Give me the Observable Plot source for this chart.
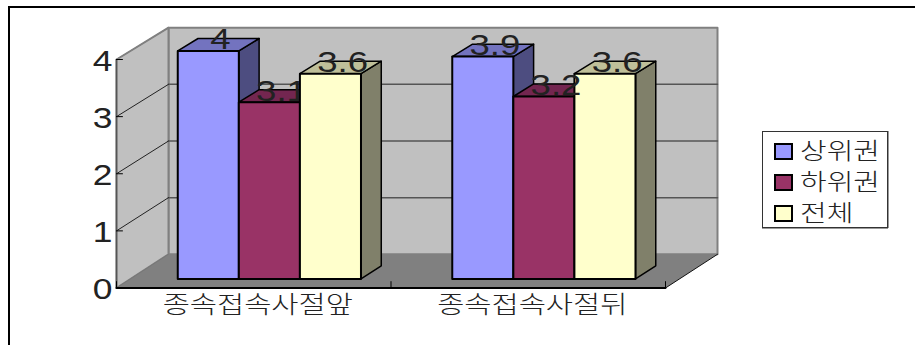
<!DOCTYPE html>
<html>
<head>
<meta charset="utf-8">
<script src="https://cdn.jsdelivr.net/npm/d3@7"></script>
<script src="https://cdn.jsdelivr.net/npm/@observablehq/plot@0.6"></script>
<style>
  html, body { margin: 0; padding: 0; background: #fff; }
  #page { position: relative; width: 915px; height: 345px; overflow: hidden; }
  #page svg { position: absolute; left: 0; top: 0; background: transparent; }
  #frame { position: absolute; left: 8px; top: 6px; right: -4px; bottom: -4px;
           border-left: 2px solid #000; border-top: 2px solid #000;
           box-shadow: 0 1px 0 #999; }
  #legend { position: absolute; left: 762px; top: 131px; width: 124px; height: 95px;
            border: 1px solid #333; box-shadow: 0 1px 0 #999, 1px 0 0 #999; background: #fff;
            font-family: "Noto Sans CJK KR", sans-serif; font-weight: 300; color: #222; }
  #legend .row { position: absolute; left: 0; height: 31px; width: 100%; }
  #legend .swatch { position: absolute; left: 11px; top: 8px; width: 15px; height: 13px;
                    border: 2px solid #000; }
  #legend .name { position: absolute; left: 37px; top: 0; font-size: 21px; line-height: 29px;
                  white-space: nowrap; transform-origin: left center; transform: scale(1.38, 1.08); }
</style>
</head>
<body>
<div id="page"></div>
<script>
// Survey scores by group, before and after the clause
const categories = ["종속접속사절앞", "종속접속사절뒤"];
const seriesNames = ["상위권", "하위권", "전체"];
const upperGroup = [4, 3.9];
const lowerGroup = [3.1, 3.2];
const overall = [3.6, 3.6];
const seriesValues = [upperGroup, lowerGroup, overall];
const yTicks = [0, 1, 2, 3, 4];

// front, top and side shades of each series
const frontColors = ["#9999ff", "#993366", "#ffffcc"];
const topColors = ["#7373bf", "#732650", "#bfbf99"];
const sideColors = ["#4d4d80", "#4d1a33", "#80806a"];

// oblique projection: one unit of depth moves across and up the data axes
const depthX = 52 / 274.5;
const depthY = 0.59;
const recede = 0.0083;
const project = ([u, v, d]) => ({x: u + d * depthX, y: v * (1 - recede * d) + d * depthY});

const face = (pts, fill, stroke, strokeWidth) =>
  Plot.line(pts.map(project), {x: "x", y: "y", fill, stroke, strokeWidth, curve: "linear-closed"});
const edge = (pts, stroke, strokeWidth) =>
  Plot.line(pts.map(project), {x: "x", y: "y", stroke, strokeWidth});

const xMax = categories.length;
const yMax = 4;

// box behind the bars
const room = [
  face([[0, 0, 1], [xMax, 0, 1], [xMax, yMax, 1], [0, yMax, 1]], "#c0c0c0", "#808080", 2),
  face([[0, 0, 0], [0, yMax, 0], [0, yMax, 1], [0, 0, 1]], "#c0c0c0", "#808080", 2),
  face([[0, 0, 0], [xMax, 0, 0], [xMax, 0, 1], [0, 0, 1]], "#808080", "none", 0),
  ...yTicks.slice(1, -1).map(t => edge([[0, t, 1], [xMax, t, 1]], "#555", 1.5)),
  ...yTicks.slice(1).map(t => edge([[0, t, 0], [0, t, 1]], t === yMax ? "#808080" : "#222", 1)),
  edge([[0, 0, 0], [0, 0, 1]], "#777", 1),
  edge([[xMax, 0, 0], [xMax, 0, 1]], "#111", 1),
  edge([[0, 0, 0], [0, yMax, 0]], "#555", 1.5),
  edge([[0, 0, 0], [xMax, 0, 0]], "#000", 2),
  ...d3.range(xMax + 1).map(i => Plot.ruleX([i], {y1: 0, y2: 0.11, stroke: "#000", strokeWidth: 1})),
  Plot.ruleY(yTicks.slice(1), {x1: 0, x2: 0.025, stroke: "#000", strokeWidth: 1})
];

// bar layout in category and depth units
const barWidth = 0.2225;
const groupStart = 0.172;
const depthFront = 0.27;
const depthBack = 0.66;

const barAt = (c, s) => {
  const u0 = c + groupStart + s * barWidth;
  const u1 = u0 + barWidth;
  const v = seriesValues[s][c];
  return {u0, u1, v};
};

const labelMark = (c, s) => {
  const {u0, u1, v} = barAt(c, s);
  const p = project([(u0 + u1) / 2, v, (depthFront + depthBack) / 2]);
  return Plot.text([p], {x: "x", y: "y", text: () => String(v), fontSize: 30, dx: 2, dy: -5,
    fontFamily: "Liberation Sans", fill: "#222", className: "stretch-num"});
};

const isCovered = (c, s) => c === 0 && s === 1;

const bars = [];
categories.forEach((_, c) => {
  seriesNames.forEach((__, s) => {
    const {u0, u1, v} = barAt(c, s);
    bars.push(
      face([[u1, 0, depthFront], [u1, 0, depthBack], [u1, v, depthBack], [u1, v, depthFront]], sideColors[s], "#000", 1.5),
      face([[u0, v, depthFront], [u1, v, depthFront], [u1, v, depthBack], [u0, v, depthBack]], topColors[s], "#000", 1.5),
      face([[u0, 0, depthFront], [u1, 0, depthFront], [u1, v, depthFront], [u0, v, depthFront]], frontColors[s], "#000", 2)
    );
    if (isCovered(c, s)) bars.push(labelMark(c, s));
  });
});

const labels = categories.flatMap((_, c) =>
  seriesNames.map((__, s) => isCovered(c, s) ? null : labelMark(c, s)).filter(Boolean));

const chart = Plot.plot({
  width: 915,
  height: 345,
  marginLeft: 116,
  marginRight: 250,
  marginTop: 59,
  marginBottom: 57.5,
  style: {background: "transparent", overflow: "visible"},
  x: {domain: [0, xMax]},
  y: {domain: [0, yMax]},
  marks: [
    ...room,
    Plot.axisY({ticks: yTicks, tickSize: 0, tickPadding: 4, fontSize: 29, dy: 2, label: null,
      tickFormat: d => String(d), fontFamily: "Liberation Sans", color: "#222",
      className: "stretch-num"}),
    Plot.axisX({ticks: categories.map((_, i) => i + 0.5), tickSize: 0, tickPadding: 8, fontSize: 24,
      label: null, dx: 4, fontFamily: "Noto Sans CJK KR", fontWeight: 300, color: "#222",
      className: "stretch-cat", tickFormat: v => categories[Math.floor(v)]}),
    ...bars,
    ...labels
  ]
});

const page = document.getElementById("page");
const frame = document.createElement("div");
frame.id = "frame";
page.appendChild(frame);
page.appendChild(chart);

// the wide-set lettering: stretch each label horizontally once it has a measured length
const widen = (selector, factor) => {
  chart.querySelectorAll(selector + " text, text" + selector).forEach(t => {
    t.setAttribute("textLength", t.getComputedTextLength() * factor);
    t.setAttribute("lengthAdjust", "spacingAndGlyphs");
  });
};
widen(".stretch-num", 1.22);
widen(".stretch-cat", 1.23);

// legend box
const legend = d3.select(page).append("div").attr("id", "legend");
seriesNames.forEach((name, s) => {
  const row = legend.append("div").attr("class", "row").style("top", `${3 + s * 31}px`);
  row.append("div").attr("class", "swatch").style("background", frontColors[s]);
  row.append("div").attr("class", "name").text(name);
});
</script>
</body>
</html>
